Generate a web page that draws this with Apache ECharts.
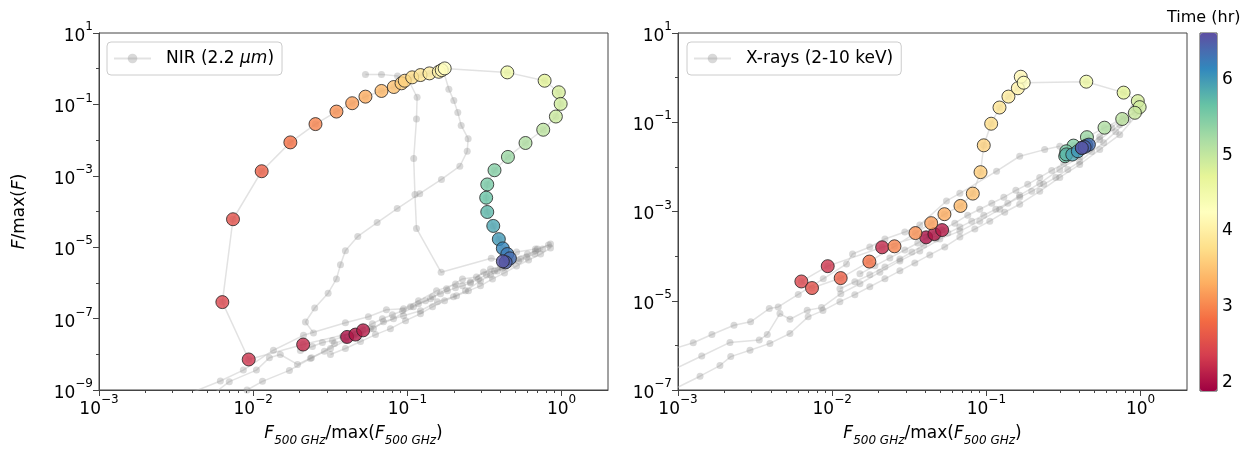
<!DOCTYPE html>
<html>
<head>
<meta charset="utf-8">
<script src="https://cdn.jsdelivr.net/npm/echarts@6/dist/echarts.min.js"></script>
<style>
html, body { margin: 0; padding: 0; background: #fff; }
#chart { width: 1257px; height: 452px; }
</style>
</head>
<body>
<div id="chart"></div>
<script>
// all flux values are log10
// coloured points (flare), shared 500 GHz values for both panels
const timeHr = [2.00, 2.05, 2.10, 2.20, 2.30, 2.45, 2.55, 2.70, 2.85, 3.00, 3.10, 3.20, 3.30, 3.40, 3.50, 3.60, 3.65, 3.75, 3.85, 3.95, 4.05, 4.15, 4.25,
  4.55, 4.75, 4.85, 4.90, 4.95, 5.05, 5.15, 5.30, 5.45, 5.55, 5.65, 5.75, 5.90, 6.00, 6.15, 6.25, 6.35, 6.45, 6.55]
const logF500 = [-1.391, -1.337, -1.287, -1.676, -2.029, -2.200, -2.131, -1.945, -1.759, -1.596, -1.460, -1.358, -1.272, -1.168, -1.088, -1.038, -1.017, -0.969, -0.915, -0.857, -0.796, -0.777, -0.758,
  -0.352, -0.110, -0.018, -0.006, -0.037, -0.119, -0.234, -0.348, -0.435, -0.482, -0.489, -0.482, -0.443, -0.407, -0.381, -0.352, -0.335, -0.363, -0.381]
const logNir = [-7.513, -7.448, -7.329, -7.727, -8.145, -6.538, -4.217, -2.872, -2.064, -1.552, -1.201, -0.967, -0.783, -0.624, -0.513, -0.409, -0.337, -0.242, -0.178, -0.131, -0.086, -0.040, 0.008,
  -0.103, -0.337, -0.660, -0.986, -1.340, -1.710, -2.081, -2.471, -2.844, -3.242, -3.613, -4.014, -4.404, -4.774, -5.033, -5.192, -5.312, -5.423, -5.396]
const logXray = [-3.579, -3.506, -3.416, -3.802, -4.225, -4.568, -4.715, -4.492, -4.122, -3.780, -3.483, -3.261, -3.060, -2.875, -2.599, -2.118, -1.517, -1.033, -0.670, -0.425, -0.238, 0.020, -0.114,
  -0.091, -0.336, -0.526, -0.661, -0.788, -0.927, -1.122, -1.334, -1.523, -1.650, -1.762, -1.720, -1.724, -1.650, -1.575, -1.523, -1.501, -1.555, -1.575]

// grey tracks, [log10 F500, log10 F]
const nirTrackA = [[-2.395, -9.064], [-2.213, -8.749], [-2.064, -8.443], [-1.869, -7.886], [-1.674, -7.468], [-1.402, -7.114], [-1.253, -6.947],
  [-1.136, -6.752], [-1.025, -6.724], [-0.928, -6.501], [-0.811, -6.223], [-0.688, -6.028], [-0.591, -5.972], [-0.506, -5.693], [-0.416, -5.665],
  [-0.312, -5.331], [-0.221, -5.192], [-0.156, -5.053], [-0.072, -4.913]]
const nirTrackB = [[-2.116, -9.175], [-2.040, -9.000], [-1.940, -8.757], [-1.765, -8.451], [-1.629, -8.117], [-1.499, -7.838], [-1.402, -7.615],
  [-1.304, -7.420], [-1.220, -7.281], [-1.155, -7.086], [-1.025, -6.919], [-0.915, -6.780], [-0.805, -6.529], [-0.701, -6.390], [-0.623, -6.223],
  [-0.526, -5.944], [-0.461, -5.777], [-0.364, -5.554], [-0.266, -5.331], [-0.169, -5.108], [-0.085, -4.941]]
const nirTrackC = [[-2.278, -9.175], [-2.155, -8.766], [-1.979, -8.443], [-1.895, -8.097], [-1.824, -8.005], [-1.713, -8.284], [-1.622, -8.097],
  [-1.538, -7.913], [-1.473, -7.699], [-1.350, -7.504], [-1.240, -7.281], [-1.090, -7.003], [-0.961, -6.668], [-0.850, -6.446], [-0.746, -6.167],
  [-0.643, -5.888], [-0.552, -5.833], [-0.461, -5.610], [-0.396, -5.554], [-0.292, -5.136], [-0.169, -5.053]]
const nirTrackD = [[-1.609, -7.401], [-1.661, -7.095], [-1.601, -6.704], [-1.514, -6.287], [-1.460, -5.888], [-1.434, -5.490], [-1.402, -5.100],
  [-1.322, -4.699], [-1.196, -4.309], [-1.066, -3.919], [-0.920, -3.501], [-0.779, -3.103], [-0.660, -2.732], [-0.612, -2.315], [-0.606, -1.961],
  [-0.651, -1.590], [-0.673, -1.228], [-0.699, -0.894], [-0.731, -0.576], [-0.764, -0.095]]
const nirTrackE = [[-1.272, -0.159], [-1.168, -0.159], [-1.064, -0.206], [-0.993, -0.317], [-0.937, -0.799], [-0.941, -1.412], [-0.959, -2.518],
  [-0.951, -3.521], [-0.941, -4.476], [-0.781, -5.702], [-0.456, -5.312], [-0.383, -5.387]]
const nirTrackF = [[-1.694, -7.894], [-1.616, -7.783], [-1.551, -7.671], [-1.486, -7.615], [-1.421, -7.504], [-1.356, -7.393], [-1.292, -7.281],
  [-1.227, -7.142], [-1.162, -7.003], [-1.097, -6.891], [-1.032, -6.780], [-0.980, -6.668], [-0.928, -6.585], [-0.883, -6.501], [-0.837, -6.390],
  [-0.785, -6.306], [-0.740, -6.223], [-0.688, -6.139], [-0.643, -6.083], [-0.591, -6.000], [-0.539, -5.888], [-0.487, -5.777], [-0.435, -5.666],
  [-0.383, -5.582], [-0.331, -5.471], [-0.279, -5.387], [-0.227, -5.276], [-0.175, -5.192], [-0.123, -5.053]]
const nirTrackG = [[-1.499, -8.005], [-1.402, -7.838], [-1.304, -7.643], [-1.207, -7.448], [-1.110, -7.281], [-1.012, -7.058], [-0.915, -6.863],
  [-0.837, -6.668], [-0.759, -6.501], [-0.681, -6.362], [-0.604, -6.223], [-0.526, -6.083], [-0.448, -5.888], [-0.370, -5.721], [-0.292, -5.526],
  [-0.214, -5.359], [-0.136, -5.192], [-0.072, -5.025]]

const xrayTrackA = [[-3.039, -6.089], [-2.901, -5.940], [-2.780, -5.755], [-2.637, -5.548], [-2.529, -5.472], [-2.408, -5.176], [-2.350, -5.138],
  [-2.220, -4.858], [-2.058, -4.508], [-1.907, -4.174], [-1.868, -3.951], [-1.756, -3.795], [-1.658, -3.617], [-1.529, -3.461], [-1.432, -3.305],
  [-1.259, -2.764], [-1.172, -2.592], [-0.934, -2.096], [-0.784, -1.762], [-0.622, -1.613], [-0.524, -1.539]]
const xrayTrackB = [[-3.039, -6.557], [-2.846, -6.238], [-2.663, -5.933], [-2.473, -5.882], [-2.421, -5.755], [-2.339, -5.287], [-2.274, -5.414],
  [-2.162, -5.214], [-2.069, -5.154], [-1.944, -4.842], [-1.820, -4.619], [-1.691, -4.359], [-1.561, -4.107], [-1.432, -3.884], [-1.302, -3.617],
  [-1.172, -3.439], [-1.043, -3.216], [-0.913, -2.949], [-0.784, -2.637], [-0.654, -2.370], [-0.524, -2.058], [-0.395, -1.768], [-0.265, -1.390],
  [-0.135, -1.056], [-0.025, -0.722]]
const xrayTrackC = [[-3.039, -7.002], [-2.857, -6.691], [-2.728, -6.452], [-2.658, -6.252], [-2.533, -6.111], [-2.404, -5.956], [-2.274, -5.733],
  [-2.156, -5.361], [-2.060, -5.221], [-1.950, -5.020], [-1.853, -4.864], [-1.756, -4.686], [-1.658, -4.508], [-1.561, -4.330], [-1.464, -4.152],
  [-1.367, -3.973], [-1.270, -3.795], [-1.172, -3.572], [-1.075, -3.394], [-0.978, -3.216], [-0.881, -3.016], [-0.784, -2.837], [-0.654, -2.548],
  [-0.524, -2.236], [-0.395, -1.947], [-0.265, -1.613], [-0.135, -1.278], [-0.006, -0.766]]
const xrayTrackD = [[-1.950, -4.731], [-1.853, -4.575], [-1.756, -4.419], [-1.658, -4.241], [-1.561, -4.062], [-1.483, -3.907], [-1.406, -3.751],
  [-1.328, -3.617], [-1.250, -3.483], [-1.172, -3.350], [-1.095, -3.216], [-1.017, -3.083], [-0.939, -2.949], [-0.861, -2.815], [-0.784, -2.682],
  [-0.706, -2.548], [-0.628, -2.392], [-0.550, -2.236], [-0.472, -2.058], [-0.395, -1.880], [-0.317, -1.657], [-0.239, -1.457], [-0.161, -1.212],
  [-0.084, -0.944]]
const xrayTrackE = [[-1.820, -4.397], [-1.723, -4.218], [-1.626, -4.040], [-1.529, -3.862], [-1.445, -3.706], [-1.367, -3.550], [-1.289, -3.417],
  [-1.205, -3.261], [-1.121, -3.083], [-1.043, -2.949], [-0.965, -2.815], [-0.887, -2.682], [-0.809, -2.526], [-0.732, -2.392], [-0.654, -2.236],
  [-0.576, -2.080], [-0.498, -1.924], [-0.421, -1.746], [-0.343, -1.546], [-0.265, -1.323], [-0.187, -1.123], [-0.110, -0.878], [-0.045, -0.677]]

// tick values
const xMajorTicks = [1e-3, 1e-2, 1e-1, 1]
const xMinorTicks = [2e-3, 3e-3, 4e-3, 5e-3, 6e-3, 7e-3, 8e-3, 9e-3, 2e-2, 3e-2, 4e-2, 5e-2, 6e-2, 7e-2, 8e-2, 9e-2,
  0.2, 0.3, 0.4, 0.5, 0.6, 0.7, 0.8, 0.9]
const nirYTicks = [1e-9, 1e-7, 1e-5, 1e-3, 1e-1, 10]
const nirYMinor = [1e-8, 1e-6, 1e-4, 1e-2, 1]
const xrayYTicks = [1e-7, 1e-5, 1e-3, 1e-1, 10]
const xrayYMinor = [1e-6, 1e-4, 1e-2, 1]
const cbarTicks = [2, 3, 4, 5, 6]

const spectral = ['#9e0142', '#d53e4f', '#f46d43', '#fdae61', '#fee08b', '#ffffbf', '#e6f598', '#abdda4', '#66c2a5', '#3288bd', '#5e4fa2']

const FONT = 'DejaVu Sans'
const AXIS = '#444'
const NIR = 'NIR (2.2 μm)'
const XRAY = 'X-rays (2-10 keV)'

const pow = v => Math.pow(10, v)
const toPts = arr => arr.map(p => [pow(p[0]), pow(p[1])])

const supFmt = v => {
  const e = Math.round(Math.log10(v))
  return '{b|10}{e|' + (e < 0 ? '\u2212' + (-e) : e) + '}'
}
const tickRich = {
  b: { fontSize: 17, fontFamily: FONT, color: '#000', lineHeight: 24, verticalAlign: 'bottom' },
  e: { fontSize: 12, fontFamily: FONT, color: '#000', lineHeight: 12, verticalAlign: 'top' }
}
const nameRich = {
  i: { fontSize: 17, fontFamily: FONT, fontStyle: 'italic', color: '#000', lineHeight: 22, verticalAlign: 'top' },
  n: { fontSize: 17, fontFamily: FONT, color: '#000', lineHeight: 22, verticalAlign: 'top' },
  s: { fontSize: 12, fontFamily: FONT, fontStyle: 'italic', color: '#000', lineHeight: 12, verticalAlign: 'bottom' }
}
const xName = '{i|F}{s|500 GHz}{n|/max(}{i|F}{s|500 GHz}{n|)}'
const yName = '{i|F}{n|/max(}{i|F}{n|)}'

function majorX (g) {
  return {
    type: 'log', gridIndex: g, logBase: 10, min: 1e-3, max: 2,
    axisLine: { show: true, lineStyle: { color: AXIS } },
    axisTick: { show: true, length: 6, customValues: xMajorTicks, lineStyle: { color: AXIS } },
    axisLabel: { customValues: xMajorTicks, formatter: supFmt, rich: tickRich, margin: 4 },
    splitLine: { show: false },
    name: xName, nameLocation: 'middle', nameGap: 35, nameTextStyle: { rich: nameRich }
  }
}
function minorX (g) {
  return {
    type: 'log', gridIndex: g, logBase: 10, min: 1e-3, max: 2, position: 'bottom',
    axisLine: { show: false },
    axisTick: { show: true, length: 3, customValues: xMinorTicks, lineStyle: { color: AXIS } },
    axisLabel: { show: false }, splitLine: { show: false }
  }
}
function majorY (g, min, ticks, withName) {
  const ax = {
    type: 'log', gridIndex: g, logBase: 10, min: min, max: 10,
    axisLine: { show: true, lineStyle: { color: AXIS } },
    axisTick: { show: true, length: 6, customValues: ticks, lineStyle: { color: AXIS } },
    axisLabel: { customValues: ticks, formatter: supFmt, rich: tickRich, margin: 6 },
    splitLine: { show: false }
  }
  if (withName) {
    ax.name = yName
    ax.nameLocation = 'middle'
    ax.nameGap = 66
    ax.nameTextStyle = { rich: nameRich }
  }
  return ax
}
function minorY (g, min, ticks) {
  return {
    type: 'log', gridIndex: g, logBase: 10, min: min, max: 10, position: 'left',
    axisLine: { show: false },
    axisTick: { show: true, length: 3, customValues: ticks, lineStyle: { color: AXIS } },
    axisLabel: { show: false }, splitLine: { show: false }
  }
}

function greyLine (name, pts, xi, yi) {
  return {
    name: name, type: 'line', xAxisIndex: xi, yAxisIndex: yi,
    data: toPts(pts),
    symbol: 'circle', symbolSize: 7, showSymbol: true,
    lineStyle: { color: 'rgba(190,190,190,0.45)', width: 1.5 },
    itemStyle: { color: 'rgba(130,130,130,0.3)' },
    emphasis: { disabled: true }, silent: true, z: 2
  }
}
function flarePts (logY) {
  return timeHr.map((t, i) => [pow(logF500[i]), pow(logY[i]), t])
}
function flarePath (logY) {
  return logF500.map((x, i) => [x, logY[i]])
}

const series = [
  greyLine(NIR, nirTrackA, 0, 0),
  greyLine(NIR, nirTrackB, 0, 0),
  greyLine(NIR, nirTrackC, 0, 0),
  greyLine(NIR, nirTrackD, 0, 0),
  greyLine(NIR, nirTrackE, 0, 0),
  greyLine(NIR, nirTrackF, 0, 0),
  greyLine(NIR, nirTrackG, 0, 0),
  greyLine(NIR, flarePath(logNir), 0, 0),
  greyLine(XRAY, xrayTrackA, 2, 2),
  greyLine(XRAY, xrayTrackB, 2, 2),
  greyLine(XRAY, xrayTrackC, 2, 2),
  greyLine(XRAY, xrayTrackD, 2, 2),
  greyLine(XRAY, xrayTrackE, 2, 2),
  greyLine(XRAY, flarePath(logXray), 2, 2)
]
const colouredIdx = [series.length, series.length + 1]
series.push({
  type: 'scatter', xAxisIndex: 0, yAxisIndex: 0, data: flarePts(logNir), symbolSize: 13,
  itemStyle: { borderColor: '#222', borderWidth: 1, opacity: 0.8 }, z: 3, silent: true
})
series.push({
  type: 'scatter', xAxisIndex: 2, yAxisIndex: 2, data: flarePts(logXray), symbolSize: 13,
  itemStyle: { borderColor: '#222', borderWidth: 1, opacity: 0.8 }, z: 3, silent: true
})

const legendBase = {
  orient: 'vertical', itemWidth: 37, itemHeight: 12,
  borderColor: '#ccc', borderWidth: 1, borderRadius: 4, padding: [8, 8, 8, 6],
  backgroundColor: 'rgba(255,255,255,0.8)',
  textStyle: { fontSize: 17, fontFamily: FONT, color: '#000', padding: [0, 0, 0, 10],
    rich: { n: { fontSize: 17, fontFamily: FONT, color: '#000' }, i: { fontSize: 17, fontFamily: FONT, fontStyle: 'italic', color: '#000' } } },
  selectedMode: false
}

const chart = echarts.init(document.getElementById('chart'))
chart.setOption({
  animation: false,
  backgroundColor: '#fff',
  title: { text: 'Time (hr)', left: 1167, top: 10, padding: 0, textStyle: { fontSize: 16, fontWeight: 'normal', fontFamily: FONT, color: '#000' } },
  grid: [
    { left: 99, top: 33, width: 509, height: 359, show: true, borderColor: AXIS, borderWidth: 1, backgroundColor: 'transparent' },
    { left: 678, top: 33, width: 509, height: 359, show: true, borderColor: AXIS, borderWidth: 1, backgroundColor: 'transparent' },
    { left: 1200, top: 33, width: 17, height: 358, show: true, borderColor: AXIS, borderWidth: 1, backgroundColor: 'transparent' }
  ],
  legend: [
    Object.assign({}, legendBase, { data: [NIR], left: 107, top: 42,
      formatter: () => '{n|NIR (2.2 }{i|μm}{n|)}' }),
    Object.assign({}, legendBase, { data: [XRAY], left: 687, top: 42 })
  ],
  xAxis: [
    majorX(0), minorX(0), majorX(1), minorX(1),
    { type: 'value', gridIndex: 2, min: 0, max: 1, show: false }
  ],
  yAxis: [
    majorY(0, 1e-9, nirYTicks, true), minorY(0, 1e-9, nirYMinor),
    majorY(1, 1e-7, xrayYTicks, false), minorY(1, 1e-7, xrayYMinor),
    {
      type: 'value', gridIndex: 2, min: 1.895, max: 6.607, position: 'right',
      axisLine: { show: false },
      axisTick: { show: true, length: 4, customValues: cbarTicks, lineStyle: { color: AXIS } },
      axisLabel: { customValues: cbarTicks, fontSize: 17, fontFamily: FONT, color: '#000', margin: 5 },
      splitLine: { show: false }
    }
  ],
  visualMap: {
    type: 'continuous', min: 1.895, max: 6.607, dimension: 2, seriesIndex: colouredIdx,
    inRange: { color: spectral }, orient: 'vertical', left: 1200, top: 33,
    itemWidth: 17, itemHeight: 358, padding: 0, calculable: false, hoverLink: false, realtime: false
  },
  series: series
})
</script>
</body>
</html>
